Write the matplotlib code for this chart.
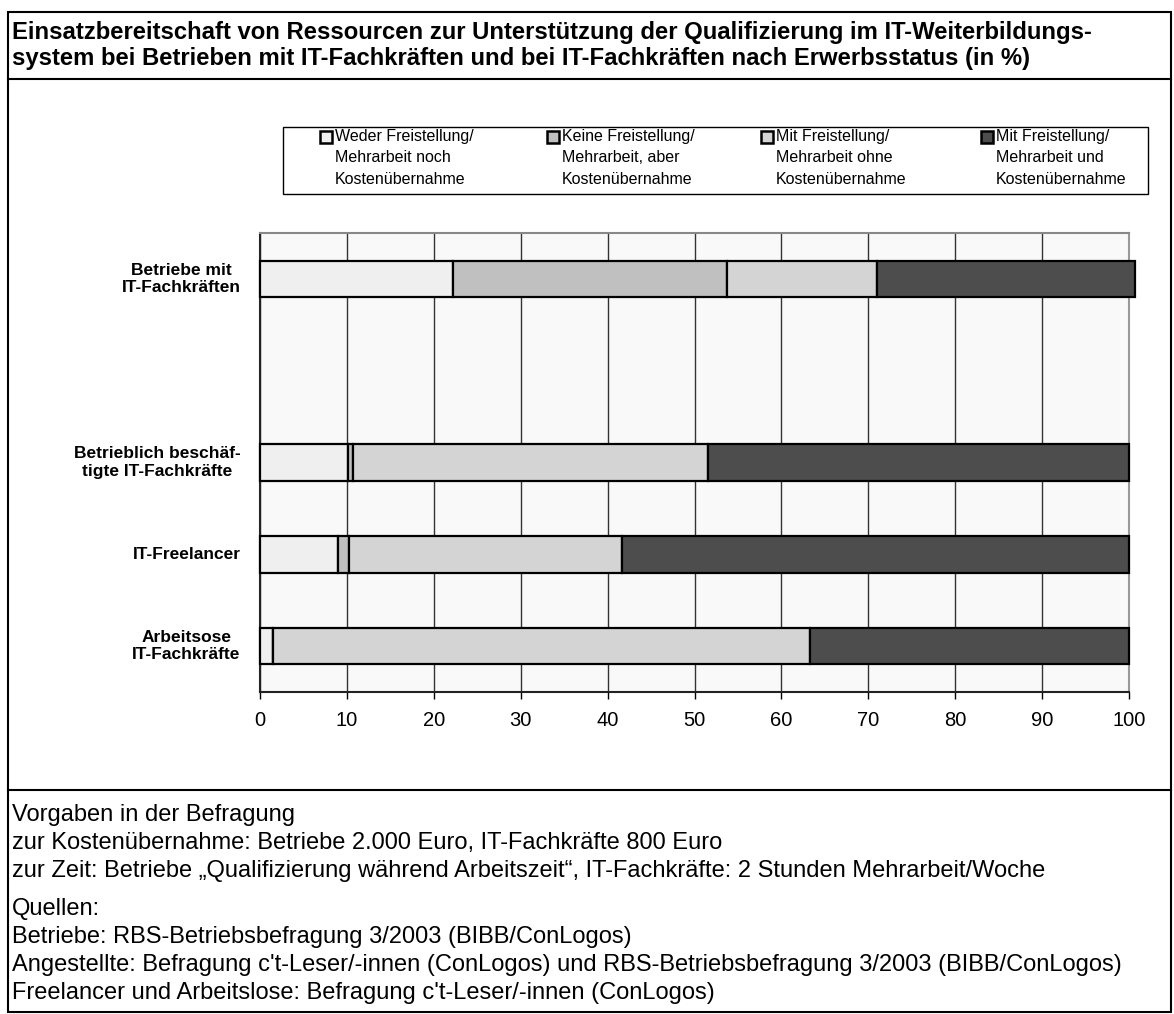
import matplotlib
matplotlib.use('Agg')
import matplotlib.pyplot as plt
from matplotlib.patches import Rectangle
from matplotlib.lines import Line2D

plt.rcParams['font.family'] = ['Liberation Sans', 'DejaVu Sans']

W, H = 1174, 1014

title_lines = ['Einsatzbereitschaft von Ressourcen zur Unterstützung der Qualifizierung im IT-Weiterbildungs-',
               'system bei Betrieben mit IT-Fachkräften und bei IT-Fachkräften nach Erwerbsstatus (in %)']

categories = ['Betriebe mit\nIT-Fachkräften',
              'Betrieblich beschäf-\ntigte IT-Fachkräfte',
              'IT-Freelancer',
              'Arbeitsose\nIT-Fachkräfte']

series_names = [['Weder Freistellung/', 'Mehrarbeit noch', 'Kostenübernahme'],
                ['Keine Freistellung/', 'Mehrarbeit, aber', 'Kostenübernahme'],
                ['Mit Freistellung/', 'Mehrarbeit ohne', 'Kostenübernahme'],
                ['Mit Freistellung/', 'Mehrarbeit und', 'Kostenübernahme']]

weder = [22.2, 10.1, 9.0, 1.5]
keine = [31.5, 0.6, 1.2, 0.0]
mit_ohne = [17.3, 40.8, 31.4, 61.8]
mit_und = [29.7, 48.5, 58.4, 36.7]

colors = ['#efefef', '#c0c0c0', '#d4d4d4', '#4d4d4d']

notes = ['Vorgaben in der Befragung',
         'zur Kostenübernahme: Betriebe 2.000 Euro, IT-Fachkräfte 800 Euro',
         'zur Zeit: Betriebe \u201eQualifizierung während Arbeitszeit\u201c, IT-Fachkräfte: 2 Stunden Mehrarbeit/Woche']
sources = ['Quellen:',
           'Betriebe: RBS-Betriebsbefragung 3/2003 (BIBB/ConLogos)',
           "Angestellte: Befragung c't-Leser/-innen (ConLogos) und RBS-Betriebsbefragung 3/2003 (BIBB/ConLogos)",
           "Freelancer und Arbeitslose: Befragung c't-Leser/-innen (ConLogos)"]


def fx(x):
    return x / W


def fy(y):
    return 1 - y / H


fig = plt.figure(figsize=(W / 100, H / 100), dpi=100)

# outer frame and separators
fig.add_artist(Rectangle((fx(8), fy(1012)), fx(1171) - fx(8), fy(12) - fy(1012),
                         transform=fig.transFigure, fill=False, edgecolor='black', lw=1.5))
for yy in (79, 790):
    fig.add_artist(Line2D([fx(8), fx(1171)], [fy(yy), fy(yy)],
                          transform=fig.transFigure, color='black', lw=1.5))

for i, t in enumerate(title_lines):
    fig.text(fx(12), fy(32 + i * 27), t, fontsize=17.2, fontweight='bold', va='center', ha='left')

# chart
ax = fig.add_axes([fx(260), fy(692), fx(1129) - fx(260), fy(233) - fy(692)])
ax.set_facecolor('#f9f9f9')
ypos = [4, 2, 1, 0]
bar_h = 0.4
left = [0.0] * len(categories)
for vals, col in zip([weder, keine, mit_ohne, mit_und], colors):
    ax.barh(ypos, vals, left=left, height=bar_h, color=col, edgecolor='black',
            linewidth=1.6, clip_on=False, zorder=3)
    left = [a + b for a, b in zip(left, vals)]

ax.set_xlim(0, 100)
ax.set_ylim(-0.5, 4.5)
ax.set_xticks(range(0, 101, 10))
ax.tick_params(axis='x', labelsize=14.5, length=5, width=1, direction='out', pad=9)
ax.set_yticks(ypos)
ax.set_yticklabels(categories, fontsize=12.5, fontweight='bold', ha='right', va='center',
                   multialignment='center')
ax.tick_params(axis='y', length=0, pad=14)
ax.grid(axis='x', color='#333333', lw=1, zorder=1)
ax.set_axisbelow(True)
ax.spines['left'].set_color('#222222')
ax.spines['bottom'].set_color('#222222')
ax.spines['top'].set_color('#888888')
ax.spines['right'].set_color('#999999')
for s in ax.spines.values():
    s.set_linewidth(1.5)

# legend box
fig.add_artist(Rectangle((fx(283), fy(194)), fx(1148) - fx(283), fy(127) - fy(194),
                         transform=fig.transFigure, facecolor='white', edgecolor='black', lw=1))
col_x = [320, 547, 761, 981]
for cx, name, col in zip(col_x, series_names, colors):
    fig.add_artist(Rectangle((fx(cx), fy(143)), fx(12), fy(131) - fy(143),
                             transform=fig.transFigure, facecolor=col, edgecolor='black', lw=1.8))
    for j, line in enumerate(name):
        fig.text(fx(cx + 15), fy(137 + j * 21), line, fontsize=11.5, va='center', ha='left')

# notes
for i, t in enumerate(notes):
    fig.text(fx(12), fy(815 + i * 28), t, fontsize=17, va='center', ha='left')
for i, t in enumerate(sources):
    fig.text(fx(12), fy(909 + i * 28), t, fontsize=17, va='center', ha='left')

fig.savefig('out.png', dpi=100)
